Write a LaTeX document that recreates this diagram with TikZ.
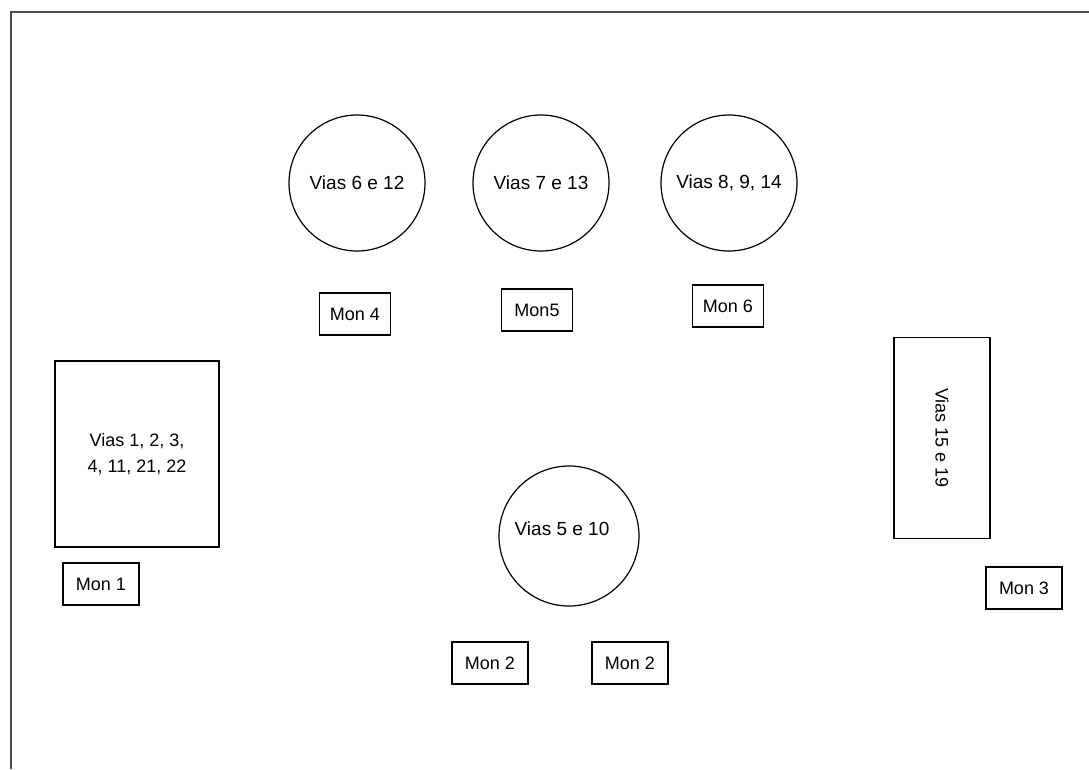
\documentclass[tikz,border=0pt]{standalone}
\usepackage{fontspec}
\setmainfont{Liberation Sans}
\begin{document}
\begin{tikzpicture}[x=1pt,y=-1pt,
	every node/.style={font=\fontsize{18}{26}\selectfont},
	via/.style={circle,draw,line width=1.2pt,minimum size=136pt,inner sep=0pt,font=\fontsize{19}{26}\selectfont},
	mon/.style={draw,line width=1.3pt,minimum width=76pt,minimum height=42pt,inner sep=0pt},
	bloco/.style={draw,line width=1.3pt,inner sep=0pt,align=center}]

	\useasboundingbox (0,0) rectangle (1089,769);

	\draw[line width=2pt,black!70] (1089,12) -- (11,12) -- (11,769);


	\node[via] (v612) at (357,183) {Vias 6 e 12};
	\node[via] (v713) at (541,183) {Vias 7 e 13};
	\node[via] (v814) at (729,183) {Vias 8, 9, 14};
	\node[via,minimum size=140pt] (v510) at (569,536) {};
	\node[font=\fontsize{19}{26}\selectfont] (t510) at ([shift={(-7,-7)}]v510.center) {Vias 5 e 10};


	\node[bloco,minimum width=164pt,minimum height=186pt] (v1) at (137,454) {Vias 1, 2, 3,\\4, 11, 21, 22};
	\node[bloco,rotate=-90,minimum width=201pt,minimum height=96pt] (v1519) at (942,438) {Vias 15 e 19};


	\node[mon,minimum width=71pt] (mon4) at (355,314) {Mon 4};
	\node[mon,minimum width=71pt] (mon5) at (537,310) {Mon5};
	\node[mon,minimum width=71pt] (mon6) at (728,306) {Mon 6};
	\node[mon] (mon1) at (101,584) {Mon 1};
	\node[mon] (mon3) at (1024,588) {Mon 3};
	\node[mon] (mon2a) at (490,663) {Mon 2};
	\node[mon] (mon2b) at (630,663) {Mon 2};


\end{tikzpicture}
\end{document}
